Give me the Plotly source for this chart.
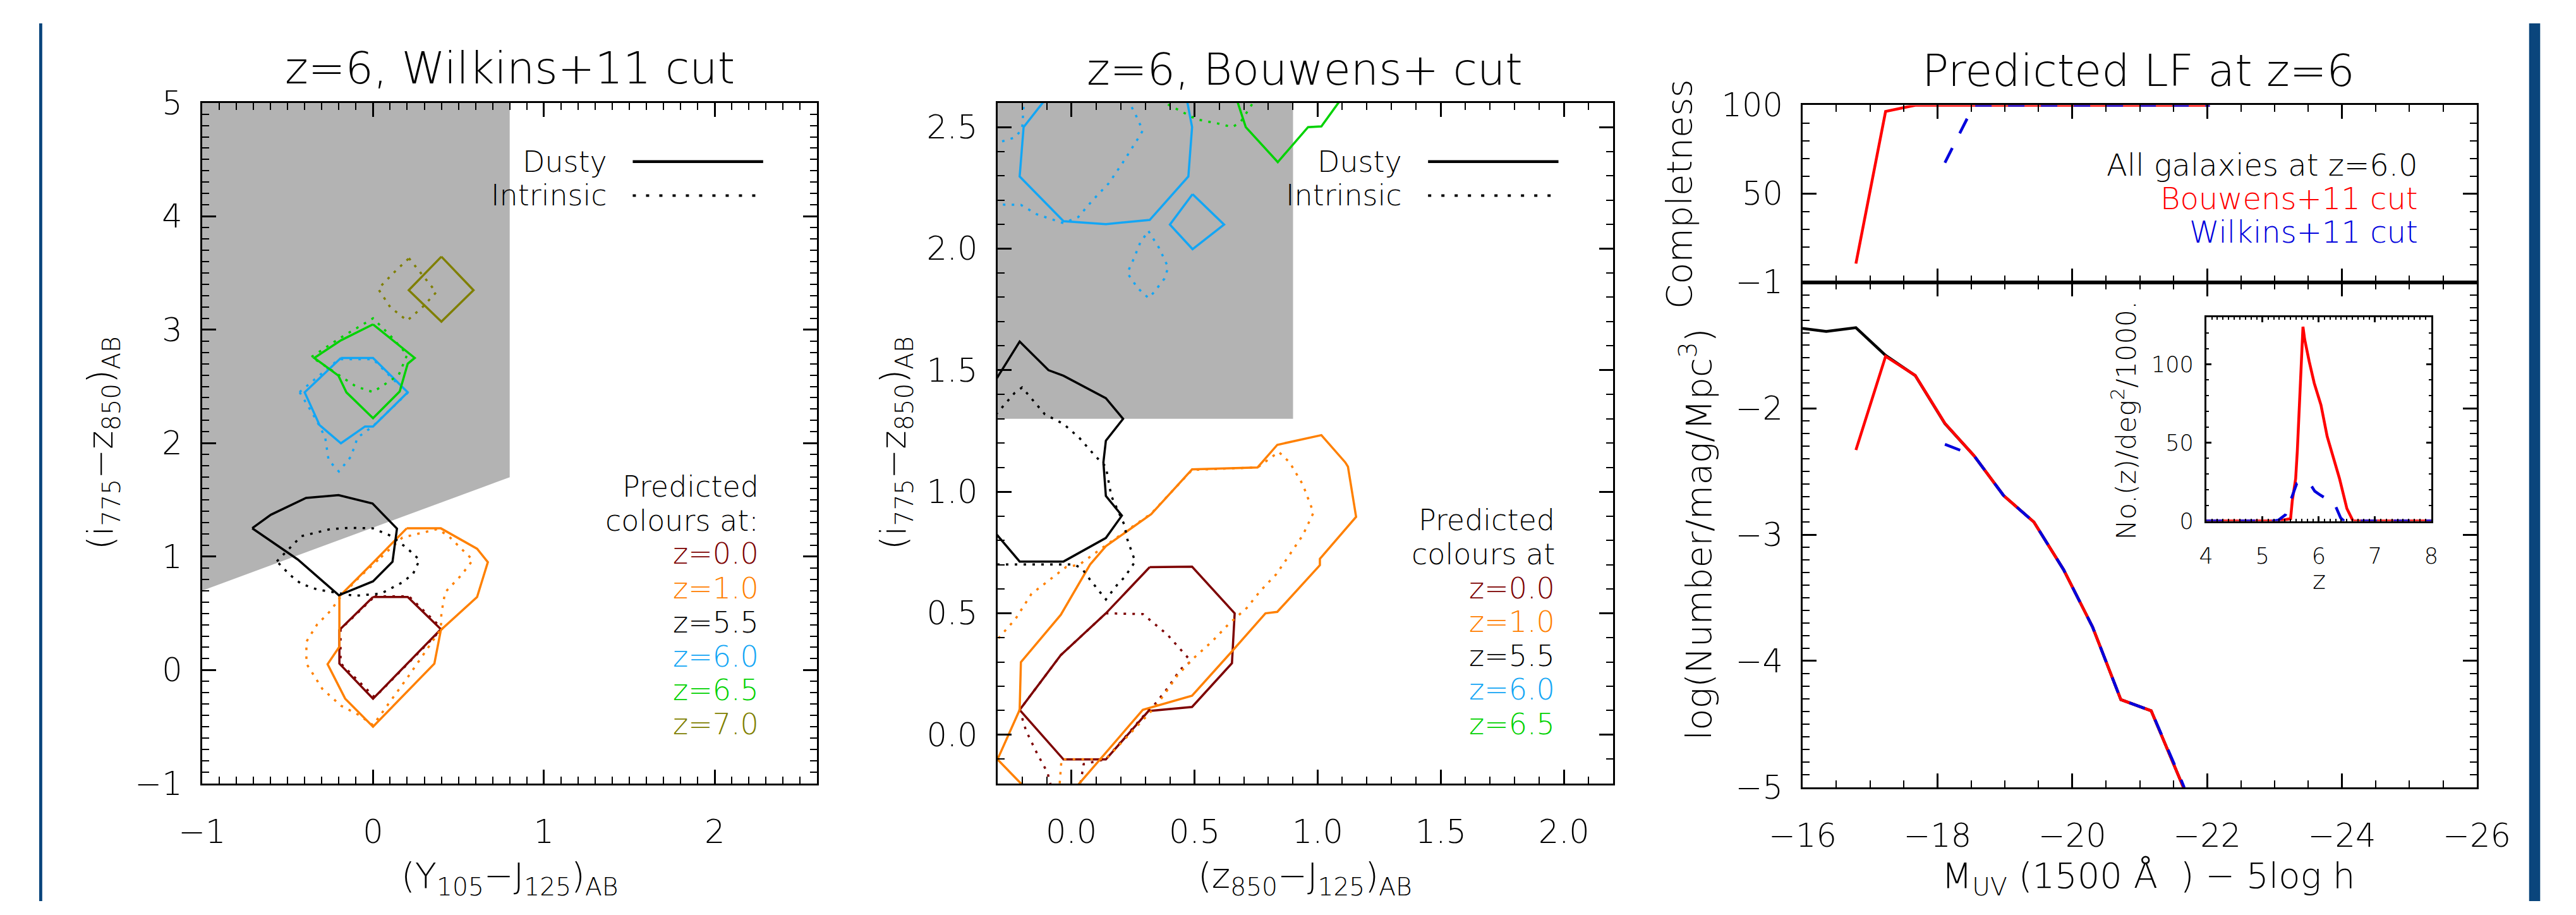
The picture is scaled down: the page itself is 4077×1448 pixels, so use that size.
import plotly.graph_objects as go

W, H = 4077, 1448
FONT = "DejaVu Sans"
FW = 200

# ---------------- colours ----------------
C_Z00 = "#7d0000"
C_Z10 = "#ff8000"
C_Z55 = "#000000"
C_Z60 = "#12a6f5"
C_Z65 = "#00d200"
C_Z70 = "#7f7f00"
C_GREY = "#b3b3b3"
C_RED = "#ff0000"
C_BLUE = "#0000dd"

# ================= Panel 1 : z=6, Wilkins+11 cut  (Y105-J125 , i775-z850) =================
wilk_cut_x = [-1.0, 0.8, 0.8, -1.0, -1.0]
wilk_cut_y = [0.7, 1.7, 5.0, 5.0, 0.7]

w_z00_dusty_x = [0.0, 0.203, 0.397, 0.0, -0.197, -0.197, 0.0]
w_z00_dusty_y = [0.644, 0.644, 0.36, -0.252, 0.057, 0.353, 0.644]
w_z00_intr_x = [0.01, 0.21, 0.405, 0.01, -0.19, -0.19, 0.01]
w_z00_intr_y = [0.65, 0.65, 0.365, -0.24, 0.06, 0.36, 0.65]

w_z10_dusty_x = [0.197, 0.397, 0.609, 0.672, 0.609, 0.397, 0.359, 0.0, -0.163, -0.266, -0.197, -0.197, 0.0, 0.197]
w_z10_dusty_y = [1.249, 1.249, 1.069, 0.951, 0.644, 0.353, 0.057, -0.499, -0.252, 0.052, 0.205, 0.649, 0.946, 1.249]
w_z10_intr_x = [0.047, 0.172, 0.375, 0.438, 0.5, 0.584, 0.516, 0.422, 0.4, 0.397, 0.2, 0.0, -0.078, -0.188,
                -0.297, -0.39, -0.39, -0.328, -0.25, -0.188, -0.078, 0.047]
w_z10_intr_y = [0.995, 1.168, 1.242, 1.188, 1.094, 0.97, 0.835, 0.686, 0.501, 0.36, -0.07, -0.486, -0.4, -0.314,
                -0.165, 0.057, 0.25, 0.4, 0.52, 0.649, 0.822, 0.995]

w_z55_dusty_x = [-0.707, -0.598, -0.392, -0.202, -0.003, 0.14, 0.114, 0.0, -0.2, -0.44, -0.707]
w_z55_dusty_y = [1.25, 1.369, 1.517, 1.542, 1.468, 1.246, 0.955, 0.782, 0.659, 0.974, 1.25]
w_z55_intr_x = [-0.563, -0.42, -0.25, -0.14, 0.0, 0.109, 0.203, 0.272, 0.234, 0.172, 0.047, -0.109, -0.328, -0.42, -0.484, -0.563]
w_z55_intr_y = [0.958, 1.18, 1.242, 1.254, 1.249, 1.18, 1.069, 0.97, 0.847, 0.773, 0.674, 0.654, 0.711, 0.76, 0.835, 0.958]

w_z60_dusty_x = [-0.188, 0.0, 0.203, 0.0, -0.047, -0.188, -0.313, -0.4, -0.188]
w_z60_dusty_y = [2.751, 2.751, 2.448, 2.147, 2.147, 1.999, 2.159, 2.448, 2.751]
w_z60_intr_x = [-0.43, -0.2, 0.0, 0.2, 0.0, -0.09, -0.13, -0.2, -0.26, -0.28, -0.33, -0.43]
w_z60_intr_y = [2.45, 2.74, 2.74, 2.44, 2.15, 2.05, 1.88, 1.75, 1.85, 2.05, 2.2, 2.45]

w_z65_dusty_x = [0.0, 0.244, 0.203, 0.156, 0.0, -0.156, -0.203, -0.344, -0.188, 0.0]
w_z65_dusty_y = [3.047, 2.751, 2.70, 2.455, 2.22, 2.448, 2.596, 2.751, 2.906, 3.047]
w_z65_intr_x = [-0.36, -0.2, 0.0, 0.1, 0.2, 0.15, 0.05, 0.0, -0.1, -0.2, -0.3, -0.36]
w_z65_intr_y = [2.76, 2.92, 3.1, 2.95, 2.78, 2.6, 2.5, 2.45, 2.5, 2.6, 2.7, 2.76]

w_z70_dusty_x = [0.40, 0.588, 0.40, 0.209, 0.40]
w_z70_dusty_y = [3.644, 3.348, 3.071, 3.348, 3.644]
w_z70_intr_x = [0.21, 0.29, 0.37, 0.29, 0.2, 0.1, 0.03, 0.12, 0.21]
w_z70_intr_y = [3.63, 3.48, 3.33, 3.2, 3.08, 3.2, 3.36, 3.5, 3.63]

# ================= Panel 2 : z=6, Bouwens+ cut  (z850-J125 , i775-z850) =================
bouw_cut_x = [-1.0, 0.9, 0.9, -1.0, -1.0]
bouw_cut_y = [1.3, 1.3, 5.0, 5.0, 1.3]

b_z00_dusty_x = [0.318, 0.49, 0.663, 0.652, 0.49, 0.313, 0.14, -0.032, -0.21, -0.043, 0.14, 0.318]
b_z00_dusty_y = [0.69, 0.692, 0.5, 0.295, 0.115, 0.098, -0.101, -0.101, 0.103, 0.328, 0.5, 0.69]
b_z00_intr_x = [0.14, 0.29, 0.389, 0.454, 0.486, 0.443, 0.389, 0.335, 0.31, 0.14, 0.05, 0.02, -0.06,
                -0.097, -0.14, -0.184, -0.21, -0.043, 0.14]
b_z00_intr_y = [0.5, 0.497, 0.413, 0.338, 0.303, 0.27, 0.19, 0.121, 0.098, -0.1, -0.12, -0.3, -0.3,
                -0.155, -0.075, 0.017, 0.103, 0.328, 0.5]

b_z10_dusty_x = [-0.01, 0.032, 0.29, 0.49, 0.648, 0.788, 0.836, 1.009, 1.009, 1.156, 1.123, 1.112, 1.015, 0.836,
                 0.756, 0.49, 0.324, 0.14, 0.076, -0.043, -0.205, -0.21, -0.3, -0.205, -0.18]
b_z10_dusty_y = [-0.25, -0.2, 0.103, 0.161, 0.339, 0.5, 0.506, 0.698, 0.724, 0.897, 1.103, 1.121, 1.233, 1.193,
                 1.1, 1.092, 0.908, 0.776, 0.701, 0.494, 0.299, 0.103, -0.101, -0.2, -0.25]
b_z10_intr_x = [-0.32, -0.227, -0.162, -0.022, 0.032, 0.14, 0.324, 0.49, 0.756, 0.842, 0.886, 0.94, 0.983, 0.94,
                0.886, 0.832, 0.767, 0.713, 0.637, 0.572, 0.497, 0.432, 0.378, 0.335, 0.14, -0.04, -0.055]
b_z10_intr_y = [0.37, 0.477, 0.58, 0.69, 0.70, 0.78, 0.91, 1.09, 1.10, 1.164, 1.121, 1.029, 0.914, 0.822,
                0.741, 0.661, 0.592, 0.523, 0.454, 0.385, 0.316, 0.247, 0.167, 0.109, -0.1, -0.1, -0.3]

b_z55_dusty_x = [-0.35, -0.21, -0.093, -0.032, 0.14, 0.21, 0.14, 0.13, 0.14, 0.205, 0.14, -0.032, -0.21, -0.35]
b_z55_dusty_y = [1.39, 1.618, 1.5, 1.477, 1.385, 1.3, 1.21, 1.121, 0.983, 0.902, 0.81, 0.713, 0.713, 0.88]
b_z55_intr_x = [-0.33, -0.259, -0.231, -0.2, -0.166, -0.108, -0.032, 0.032, 0.097, 0.14, 0.162, 0.216, 0.227,
                0.259, 0.216, 0.184, 0.14, 0.076, 0.043, 0.011, -0.14, -0.35]
b_z55_intr_y = [1.29, 1.371, 1.406, 1.429, 1.389, 1.319, 1.279, 1.222, 1.147, 1.103, 0.983, 0.862, 0.805,
                0.713, 0.649, 0.615, 0.557, 0.638, 0.684, 0.701, 0.701, 0.701]

b_z60_dusty_x = [-0.07, -0.194, -0.21, -0.032, 0.14, 0.318, 0.475, 0.49, 0.46]
b_z60_dusty_y = [2.66, 2.5, 2.297, 2.113, 2.101, 2.118, 2.297, 2.5, 2.66]
b_z60_box_x = [0.492, 0.62, 0.492, 0.40, 0.492]
b_z60_box_y = [2.224, 2.099, 1.998, 2.099, 2.224]
b_z60_intr_x = [-0.35, -0.23, -0.2, -0.19, None,
                -0.35, -0.205, -0.14, -0.032, 0.028, 0.086, 0.151, 0.205, 0.27, 0.29, 0.259, 0.21, None,
                0.313, 0.356, 0.393, 0.378, 0.335, 0.313, 0.27, 0.227, 0.248, 0.28, 0.313]
b_z60_intr_y = [2.42, 2.457, 2.492, 2.65, None,
                2.182, 2.18, 2.141, 2.105, 2.13, 2.199, 2.268, 2.348, 2.452, 2.486, 2.555, 2.65, None,
                2.072, 2.003, 1.923, 1.877, 1.82, 1.797, 1.837, 1.9, 1.946, 2.026, 2.072]

b_z65_dusty_x = [0.65, 0.708, 0.838, 0.961, 1.015, 1.12]
b_z65_dusty_y = [2.68, 2.5, 2.356, 2.5, 2.503, 2.65]
b_z65_intr_x = [0.36, 0.464, 0.508, 0.594, 0.654, 0.687, 0.708, 0.75]
b_z65_intr_y = [2.61, 2.555, 2.532, 2.515, 2.5, 2.521, 2.555, 2.62]

# ================= Panel 3 : predicted LF at z=6 =================
lf_mag_all = [-15.9, -16.35, -16.79, -17.23, -17.67, -18.11, -18.54, -18.98, -19.43, -19.87, -20.30, -20.72,
              -21.17, -21.61, -22.04]
lf_all = [-1.36, -1.39, -1.36, -1.58, -1.74, -2.12, -2.373, -2.69, -2.90, -3.277, -3.731, -4.307, -4.395, -4.938, -5.5]

lf_mag_bouw = [-16.79, -17.23, -17.67, -18.11, -18.54, -18.98, -19.43, -19.87, -20.30, -20.72, -21.17, -21.61, -22.04]
lf_bouw = [-2.329, -1.587, -1.738, -2.118, -2.373, -2.69, -2.90, -3.277, -3.731, -4.307, -4.395, -4.938, -5.5]
comp_bouw = [10.5, 96.5, 100, 100, 100, 100, 100, 100, 100, 100, 100, 100, 100]

lf_mag_wilk = [-18.11, -18.54, -18.98, -19.43, -19.87, -20.30, -20.72, -21.17, -21.61, -22.04]
lf_wilk = [-2.284, -2.373, -2.69, -2.90, -3.277, -3.731, -4.307, -4.395, -4.938, -5.5]
comp_wilk = [67.5, 100, 100, 100, 100, 100, 100, 100, 100, 100]

# inset: N(z) per deg^2 / 1000
nz_z_bouw = [4.0, 5.28, 5.50, 5.53, 5.59, 5.62, 5.72, 5.75, 5.83, 5.92, 6.04, 6.15, 6.37, 6.50, 6.61, 8.0]
nz_bouw = [0, 0, 1.5, 13, 27, 45, 124, 116, 102, 88, 74, 54, 27, 8, 0, 0]
nz_z_wilk = [4.0, 5.19, 5.28, 5.41, 5.52, 5.61, 5.72, 5.84, 5.93, 6.01, 6.28, 6.39, 6.45, 8.0]
nz_wilk = [0, 0, 0.5, 4, 15, 24, 25, 24, 19, 17, 11, 2, 0, 0]


# ---------------- layout helpers (pixel -> paper fraction) ----------------
def fx(v):
    return v / W


def fy(v):
    return 1 - v / H


P1X = [fx(265), fx(1265)]
PY = [fy(1254), fy(131)]
P2X = [fx(1558), fx(2559)]
P3X = [fx(2867), fx(3963)]
P3T = [fy(427), fy(135)]
P3B = [fy(1260), fy(427)]
INX = [fx(3523), fx(3889)]
INY = [fy(821), fy(485)]

DOT = "4px,10px"
DASH = "26px,26px"

fig = go.Figure()


def line(x, y, color, xa, ya, dash="solid", width=3.5):
    fig.add_trace(go.Scatter(
        x=x, y=y, mode="lines", xaxis=xa, yaxis=ya, showlegend=False, hoverinfo="skip",
        line=dict(color=color, width=width, dash=dash), connectgaps=False))


def region(x, y, xa, ya):
    fig.add_trace(go.Scatter(
        x=x, y=y, mode="lines", xaxis=xa, yaxis=ya, fill="toself", fillcolor=C_GREY,
        line=dict(width=0, color=C_GREY), showlegend=False, hoverinfo="skip"))


# panel 1
region(wilk_cut_x, wilk_cut_y, "x", "y")
for (dx, dy, ix, iy, c) in [
    (w_z00_dusty_x, w_z00_dusty_y, w_z00_intr_x, w_z00_intr_y, C_Z00),
    (w_z10_dusty_x, w_z10_dusty_y, w_z10_intr_x, w_z10_intr_y, C_Z10),
    (w_z55_dusty_x, w_z55_dusty_y, w_z55_intr_x, w_z55_intr_y, C_Z55),
    (w_z60_dusty_x, w_z60_dusty_y, w_z60_intr_x, w_z60_intr_y, C_Z60),
    (w_z65_dusty_x, w_z65_dusty_y, w_z65_intr_x, w_z65_intr_y, C_Z65),
    (w_z70_dusty_x, w_z70_dusty_y, w_z70_intr_x, w_z70_intr_y, C_Z70),
]:
    line(ix, iy, c, "x", "y", dash=DOT)
    line(dx, dy, c, "x", "y")

# panel 2
region(bouw_cut_x, bouw_cut_y, "x2", "y2")
for (dx, dy, ix, iy, c) in [
    (b_z00_dusty_x, b_z00_dusty_y, b_z00_intr_x, b_z00_intr_y, C_Z00),
    (b_z10_dusty_x, b_z10_dusty_y, b_z10_intr_x, b_z10_intr_y, C_Z10),
    (b_z55_dusty_x, b_z55_dusty_y, b_z55_intr_x, b_z55_intr_y, C_Z55),
    (b_z60_dusty_x, b_z60_dusty_y, b_z60_intr_x, b_z60_intr_y, C_Z60),
    (b_z65_dusty_x, b_z65_dusty_y, b_z65_intr_x, b_z65_intr_y, C_Z65),
]:
    line(ix, iy, c, "x2", "y2", dash=DOT)
    line(dx, dy, c, "x2", "y2")
line(b_z60_box_x, b_z60_box_y, C_Z60, "x2", "y2")

# panel 3 top: completeness
line(lf_mag_bouw, comp_bouw, C_RED, "x3", "y3", width=4.5)
line(lf_mag_wilk, comp_wilk, C_BLUE, "x3", "y3", dash=DASH, width=4.5)
# panel 3 bottom: LF
line(lf_mag_all, lf_all, "black", "x4", "y4", width=4.5)
line(lf_mag_bouw, lf_bouw, C_RED, "x4", "y4", width=4.5)
line(lf_mag_wilk, lf_wilk, C_BLUE, "x4", "y4", dash=DASH, width=4.5)
# inset
line(nz_z_bouw, nz_bouw, C_RED, "x5", "y5", width=4.5)
line(nz_z_wilk, nz_wilk, C_BLUE, "x5", "y5", dash=DASH, width=4.5)


def ax(domain, anchor, rng, dtick, tick0, mdtick, fmt="", size=51, ticklen=22, mlen=11,
       standoff=10, labels=True, tickvals=None):
    d = dict(domain=domain, anchor=anchor, range=rng, showline=True, linecolor="black", linewidth=3,
             mirror="ticks", ticks="inside", ticklen=ticklen, tickwidth=2.5, tickcolor="black",
             showgrid=False, zeroline=False, tickformat=fmt, showticklabels=labels,
             tickfont=dict(family=FONT, size=size, color="black", weight=FW),
             ticklabelstandoff=standoff, fixedrange=True,
             minor=dict(ticks="inside", ticklen=mlen, tickwidth=2, tickcolor="black",
                        tickmode="linear", tick0=tick0, dtick=mdtick, showgrid=False))
    if tickvals is not None:
        d.update(tickmode="array", tickvals=tickvals)
    else:
        d.update(tickmode="linear", tick0=tick0, dtick=dtick)
    return d


fig.update_layout(
    width=W, height=H, margin=dict(l=0, r=0, t=0, b=0),
    paper_bgcolor="white", plot_bgcolor="white", showlegend=False,
    xaxis=ax(P1X, "y", [-1, 2.6], 1, 0, 0.1, standoff=30),
    yaxis=ax(PY, "x", [-1, 5], 1, 0, 0.1, standoff=18),
    xaxis2=ax(P2X, "y2", [-0.3, 2.2], 0.5, 0, 0.1, fmt=".1f", standoff=30),
    yaxis2=ax(PY, "x2", [-0.2, 2.6], 0.5, 0, 0.1, fmt=".1f", standoff=18),
    xaxis3=ax(P3X, "y3", [-16, -26], 2, -16, 0.5, labels=False),
    yaxis3=ax(P3T, "x3", [0, 100], None, 0, 10, tickvals=[50, 100], standoff=18),
    xaxis4=ax(P3X, "y4", [-16, -26], 2, -16, 0.5, standoff=30),
    yaxis4=ax(P3B, "x4", [-5, -1], 1, 0, 0.1, standoff=18),
    xaxis5=ax(INX, "y5", [4, 8], 1, 0, 0.1, size=35, ticklen=8, mlen=4, standoff=22),
    yaxis5=ax(INY, "x5", [0, 130], None, 0, 10, size=35, ticklen=8, mlen=4, tickvals=[0, 50, 100],
              standoff=10),
)

annos = []


def txt(s, x, y, size, color="black", xanchor="center", angle=0):
    annos.append(dict(text=s, x=fx(x), y=fy(y), xref="paper", yref="paper", showarrow=False,
                      xanchor=xanchor, yanchor="middle", textangle=angle,
                      font=dict(family=FONT, size=size, color=color, weight=FW)))


# titles
txt("z=6, Wilkins+11 cut", 765, 74, 70)
txt("z=6, Bouwens+ cut", 2057, 76, 70)
txt("Predicted LF at z=6", 3413, 78, 70)

# panel 1 keys
txt("Dusty", 926, 228, 46, xanchor="right")
txt("Intrinsic", 926, 284, 46, xanchor="right")
txt("Predicted", 1172, 764, 46, xanchor="right")
txt("colours at:", 1172, 820, 46, xanchor="right")
for lab, yy, c in [("z=0.0", 875, C_Z00), ("z=1.0", 932, C_Z10), ("z=5.5", 988, C_Z55),
                   ("z=6.0", 1045, C_Z60), ("z=6.5", 1100, C_Z65), ("z=7.0", 1156, C_Z70)]:
    txt(lab, 1172, yy, 46, color=c, xanchor="right")

# panel 2 keys
txt("Dusty", 2218, 228, 46, xanchor="right")
txt("Intrinsic", 2218, 284, 46, xanchor="right")
txt("Predicted", 2466, 819, 46, xanchor="right")
txt("colours at", 2466, 876, 46, xanchor="right")
for lab, yy, c in [("z=0.0", 932, C_Z00), ("z=1.0", 987, C_Z10), ("z=5.5", 1044, C_Z55),
                   ("z=6.0", 1099, C_Z60), ("z=6.5", 1156, C_Z65)]:
    txt(lab, 2466, yy, 46, color=c, xanchor="right")

# panel 3 keys
txt("All galaxies at z=6.0", 3870, 233, 48, xanchor="right")
txt("Bouwens+11 cut", 3870, 289, 48, color=C_RED, xanchor="right")
txt("Wilkins+11 cut", 3870, 344, 48, color=C_BLUE, xanchor="right")

# axis titles
txt("(Y<sub>105</sub>\u2212J<sub>125</sub>)<sub>AB</sub>", 765, 1410, 56)
txt("(z<sub>850</sub>\u2212J<sub>125</sub>)<sub>AB</sub>", 2058, 1410, 56)
txt("M<sub>UV</sub>\u00a0(1500\u00a0\u00c5\u00a0\u00a0)\u00a0\u2212\u00a05log\u00a0h", 3429, 1410, 56)
txt("(i<sub>775</sub>\u2212z<sub>850</sub>)<sub>AB</sub>", 104, 692, 56, angle=-90)
txt("(i<sub>775</sub>\u2212z<sub>850</sub>)<sub>AB</sub>", 1393, 692, 56, angle=-90)
txt("Completness", 2666, 281, 56, angle=-90)
txt("log(Number/mag/Mpc<sup>3</sup>)", 2695, 843, 56, angle=-90)
txt("No.(z)/deg<sup>2</sup>/1000.", 3390, 655, 43, angle=-90)
txt("z", 3707, 918, 40)

fig.update_layout(annotations=annos)

# key sample lines and page frame bars
shapes = []
for x0, x1 in [(965, 1177), (2258, 2470)]:
    shapes.append(dict(type="line", xref="paper", yref="paper", x0=fx(x0), x1=fx(x1), y0=fy(228), y1=fy(228),
                       line=dict(color="black", width=4.5)))
    shapes.append(dict(type="line", xref="paper", yref="paper", x0=fx(x0), x1=fx(x1), y0=fy(284), y1=fy(284),
                       line=dict(color="black", width=4, dash="5px,16px")))
shapes.append(dict(type="rect", xref="paper", yref="paper", x0=0, x1=fx(5), y0=0, y1=1,
                   line=dict(width=0), fillcolor="#0a457c"))
shapes.append(dict(type="rect", xref="paper", yref="paper", x0=fx(4048), x1=fx(4066), y0=0, y1=1,
                   line=dict(width=0), fillcolor="#0a457c"))
fig.update_layout(shapes=shapes)

fig.write_html("out.html")
